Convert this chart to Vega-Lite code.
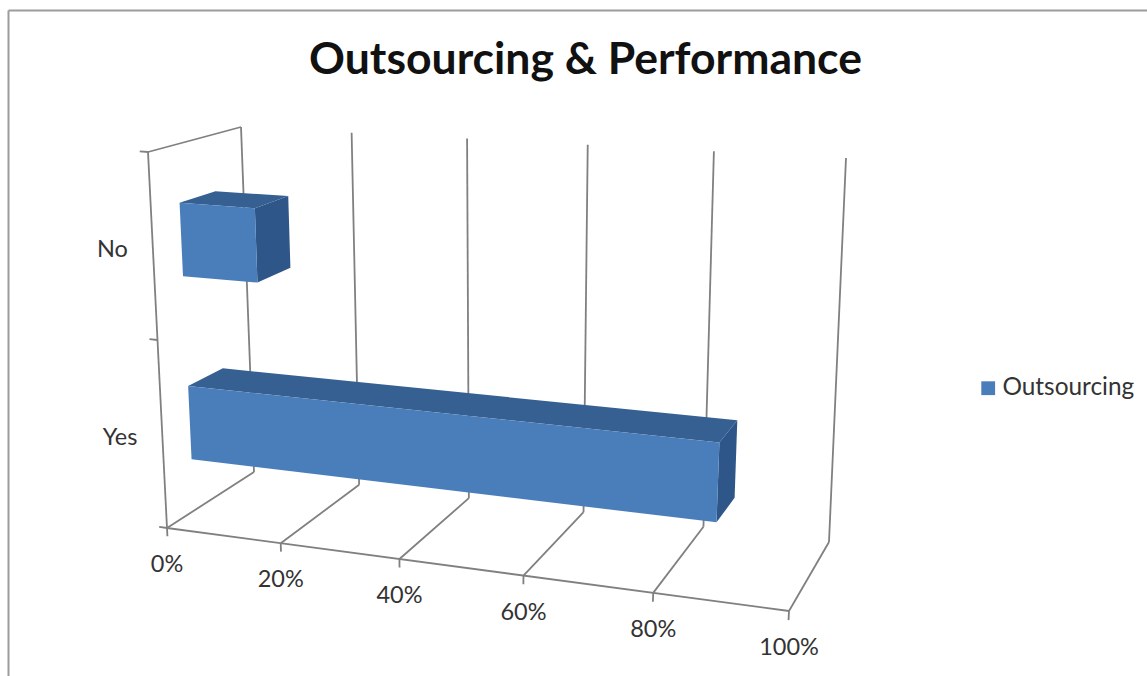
{
  "$schema": "https://vega.github.io/schema/vega-lite/v6.json",
  "width": 1139,
  "height": 666,
  "padding": {"left": 8, "top": 10, "right": 0, "bottom": 0},
  "autosize": {"type": "none"},
  "background": "#ffffff",
  "config": {"view": {"stroke": null}, "font": "Lato"},
  "title": {
    "text": "Outsourcing & Performance",
    "font": "Lato",
    "fontSize": 44.5,
    "fontWeight": "bold",
    "color": "#111111",
    "anchor": "middle",
    "frame": "group",
    "dx": 8,
    "offset": -108,
    "baseline": "alphabetic"
  },
  "datasets": {
    "answers": [
      {"Answer": "No", "Share": 0.13, "Series": "Outsourcing"},
      {"Answer": "Yes", "Share": 0.87, "Series": "Outsourcing"}
    ],
    "ticks": [
      {"Tick": 0},
      {"Tick": 0.2},
      {"Tick": 0.4},
      {"Tick": 0.6},
      {"Tick": 0.8},
      {"Tick": 1}
    ],
    "boundaries": [{"Boundary": 0}, {"Boundary": 0.5}, {"Boundary": 1}]
  },
  "encoding": {
    "x": {
      "field": "px",
      "type": "quantitative",
      "scale": {"domain": [8, 1147], "nice": false, "zero": false},
      "axis": {"orient": "top", "title": null, "labels": false, "ticks": false, "grid": false, "domain": true, "domainColor": "#9c9c9c", "domainWidth": 2}
    },
    "y": {
      "field": "py",
      "type": "quantitative",
      "scale": {"domain": [676, 10], "nice": false, "zero": false},
      "axis": {"orient": "left", "title": null, "labels": false, "ticks": false, "grid": false, "domain": true, "domainColor": "#9c9c9c", "domainWidth": 2}
    }
  },
  "layer": [
    {
      "data": {"name": "ticks"},
      "transform": [
        {"calculate": "['wall','floor','tick','base','edge','side']", "as": "part"},
        {"flatten": ["part"]},
        {"filter": "indexof(['wall','floor','tick'], datum.part) >= 0 || datum.Tick === 0"},
        {"calculate": "[0,1]", "as": "end"},
        {"flatten": ["end"]},
        {"calculate": "datum.part === 'base' ? datum.end : datum.Tick", "as": "u"},
        {"calculate": "datum.part === 'wall' || datum.part === 'edge' ? datum.end : datum.part === 'tick' ? -0.022 * datum.end : datum.part === 'side' ? 1 : 0", "as": "h"},
        {"calculate": "datum.part === 'wall' ? 1 : datum.part === 'floor' || datum.part === 'side' ? datum.end : 0", "as": "d"},
        {"calculate": "datum.part + datum.Tick", "as": "segment"},
        {"calculate": "0.895*datum.u/(1-0.105*datum.u)", "as": "w"},
        {"calculate": "((167+622*datum.w)*(1-datum.d)+(254+575*datum.w)*datum.d)*(1-datum.h)+((148+662*datum.w)*(1-datum.d)+(241+605*datum.w)*datum.d)*datum.h", "as": "px"},
        {"calculate": "((528+83*datum.w)*(1-datum.d)+(472+70*datum.w)*datum.d)*(1-datum.h)+((152+44*datum.w)*(1-datum.d)+(127+31*datum.w)*datum.d)*datum.h", "as": "py"}
      ],
      "mark": {"type": "line", "stroke": "#808080", "strokeWidth": 1.8},
      "encoding": {
        "detail": {"field": "segment"},
        "order": {"field": "end", "type": "quantitative"}
      }
    },
    {
      "data": {"name": "boundaries"},
      "transform": [
        {"calculate": "[0,1]", "as": "end"},
        {"flatten": ["end"]},
        {"calculate": "-0.014 * datum.end", "as": "u"},
        {"calculate": "datum.Boundary", "as": "h"},
        {"calculate": "0", "as": "d"},
        {"calculate": "0.895*datum.u/(1-0.105*datum.u)", "as": "w"},
        {"calculate": "((167+622*datum.w)*(1-datum.d)+(254+575*datum.w)*datum.d)*(1-datum.h)+((148+662*datum.w)*(1-datum.d)+(241+605*datum.w)*datum.d)*datum.h", "as": "px"},
        {"calculate": "((528+83*datum.w)*(1-datum.d)+(472+70*datum.w)*datum.d)*(1-datum.h)+((152+44*datum.w)*(1-datum.d)+(127+31*datum.w)*datum.d)*datum.h", "as": "py"}
      ],
      "mark": {"type": "line", "stroke": "#808080", "strokeWidth": 1.8},
      "encoding": {
        "detail": {"field": "Boundary"},
        "order": {"field": "end", "type": "quantitative"}
      }
    },
    {
      "data": {"name": "answers"},
      "transform": [
        {"calculate": "[0,1,2,3]", "as": "corner"},
        {"flatten": ["corner"]},
        {"calculate": "(datum.Answer === 'Yes' ? 0.24 : 0.74) + (datum.corner === 1 || datum.corner === 2 ? 0.1 : -0.1)", "as": "h"},
        {"calculate": "datum.Share", "as": "u"},
        {"calculate": "datum.corner < 2 ? 0.31 : 0.7", "as": "d"},
        {"calculate": "0.895*datum.u/(1-0.105*datum.u)", "as": "w"},
        {"calculate": "((167+622*datum.w)*(1-datum.d)+(254+575*datum.w)*datum.d)*(1-datum.h)+((148+662*datum.w)*(1-datum.d)+(241+605*datum.w)*datum.d)*datum.h", "as": "px"},
        {"calculate": "((528+83*datum.w)*(1-datum.d)+(472+70*datum.w)*datum.d)*(1-datum.h)+((152+44*datum.w)*(1-datum.d)+(127+31*datum.w)*datum.d)*datum.h", "as": "py"}
      ],
      "mark": {"type": "line", "fill": "#2f5688", "strokeWidth": 0},
      "encoding": {
        "detail": {"field": "Answer"},
        "order": {"field": "corner", "type": "quantitative"}
      }
    },
    {
      "data": {"name": "answers"},
      "transform": [
        {"calculate": "[0,1,2,3]", "as": "corner"},
        {"flatten": ["corner"]},
        {"calculate": "(datum.Answer === 'Yes' ? 0.24 : 0.74) + 0.1", "as": "h"},
        {"calculate": "datum.corner < 2 ? 0 : datum.Share", "as": "u"},
        {"calculate": "datum.corner === 1 || datum.corner === 2 ? 0.7 : 0.31", "as": "d"},
        {"calculate": "0.895*datum.u/(1-0.105*datum.u)", "as": "w"},
        {"calculate": "((167+622*datum.w)*(1-datum.d)+(254+575*datum.w)*datum.d)*(1-datum.h)+((148+662*datum.w)*(1-datum.d)+(241+605*datum.w)*datum.d)*datum.h", "as": "px"},
        {"calculate": "((528+83*datum.w)*(1-datum.d)+(472+70*datum.w)*datum.d)*(1-datum.h)+((152+44*datum.w)*(1-datum.d)+(127+31*datum.w)*datum.d)*datum.h", "as": "py"}
      ],
      "mark": {"type": "line", "fill": "#376092", "strokeWidth": 0},
      "encoding": {
        "detail": {"field": "Answer"},
        "order": {"field": "corner", "type": "quantitative"}
      }
    },
    {
      "data": {"name": "answers"},
      "transform": [
        {"calculate": "[0,1,2,3]", "as": "corner"},
        {"flatten": ["corner"]},
        {"calculate": "(datum.Answer === 'Yes' ? 0.24 : 0.74) + (datum.corner === 1 || datum.corner === 2 ? 0.1 : -0.1)", "as": "h"},
        {"calculate": "datum.corner < 2 ? 0 : datum.Share", "as": "u"},
        {"calculate": "0.31", "as": "d"},
        {"calculate": "0.895*datum.u/(1-0.105*datum.u)", "as": "w"},
        {"calculate": "((167+622*datum.w)*(1-datum.d)+(254+575*datum.w)*datum.d)*(1-datum.h)+((148+662*datum.w)*(1-datum.d)+(241+605*datum.w)*datum.d)*datum.h", "as": "px"},
        {"calculate": "((528+83*datum.w)*(1-datum.d)+(472+70*datum.w)*datum.d)*(1-datum.h)+((152+44*datum.w)*(1-datum.d)+(127+31*datum.w)*datum.d)*datum.h", "as": "py"}
      ],
      "mark": {"type": "line", "strokeWidth": 0},
      "encoding": {
        "detail": {"field": "Answer"},
        "order": {"field": "corner", "type": "quantitative"},
        "fill": {
          "field": "Series",
          "type": "nominal",
          "scale": {"range": ["#4a7ebb"]},
          "legend": {
            "orient": "none",
            "legendX": 968,
            "legendY": 366,
            "title": null,
            "symbolType": "square",
            "symbolSize": 190,
            "symbolStrokeWidth": 0,
            "labelFont": "Lato",
            "labelFontSize": 24.4,
            "labelColor": "#333333",
            "labelOffset": 2,
            "labelLimit": 220
          }
        }
      }
    },
    {
      "data": {"name": "ticks"},
      "transform": [
        {"calculate": "datum.Tick", "as": "u"},
        {"calculate": "0.895*datum.u/(1-0.105*datum.u)", "as": "w"},
        {"calculate": "167+622*datum.w", "as": "px"},
        {"calculate": "528+83*datum.w", "as": "py"}
      ],
      "mark": {"type": "text", "font": "Lato", "fontSize": 23.5, "color": "#333333", "align": "center", "baseline": "middle", "dy": 37},
      "encoding": {"text": {"field": "Tick", "type": "quantitative", "format": ".0%"}}
    },
    {
      "data": {"name": "answers"},
      "transform": [
        {"calculate": "datum.Answer === 'Yes' ? 0.24 : 0.74", "as": "h"},
        {"calculate": "167-19*datum.h", "as": "px"},
        {"calculate": "528-376*datum.h", "as": "py"}
      ],
      "mark": {"type": "text", "font": "Lato", "fontSize": 23.5, "color": "#333333", "align": "right", "baseline": "middle", "dx": -25},
      "encoding": {"text": {"field": "Answer", "type": "nominal"}}
    }
  ]
}
